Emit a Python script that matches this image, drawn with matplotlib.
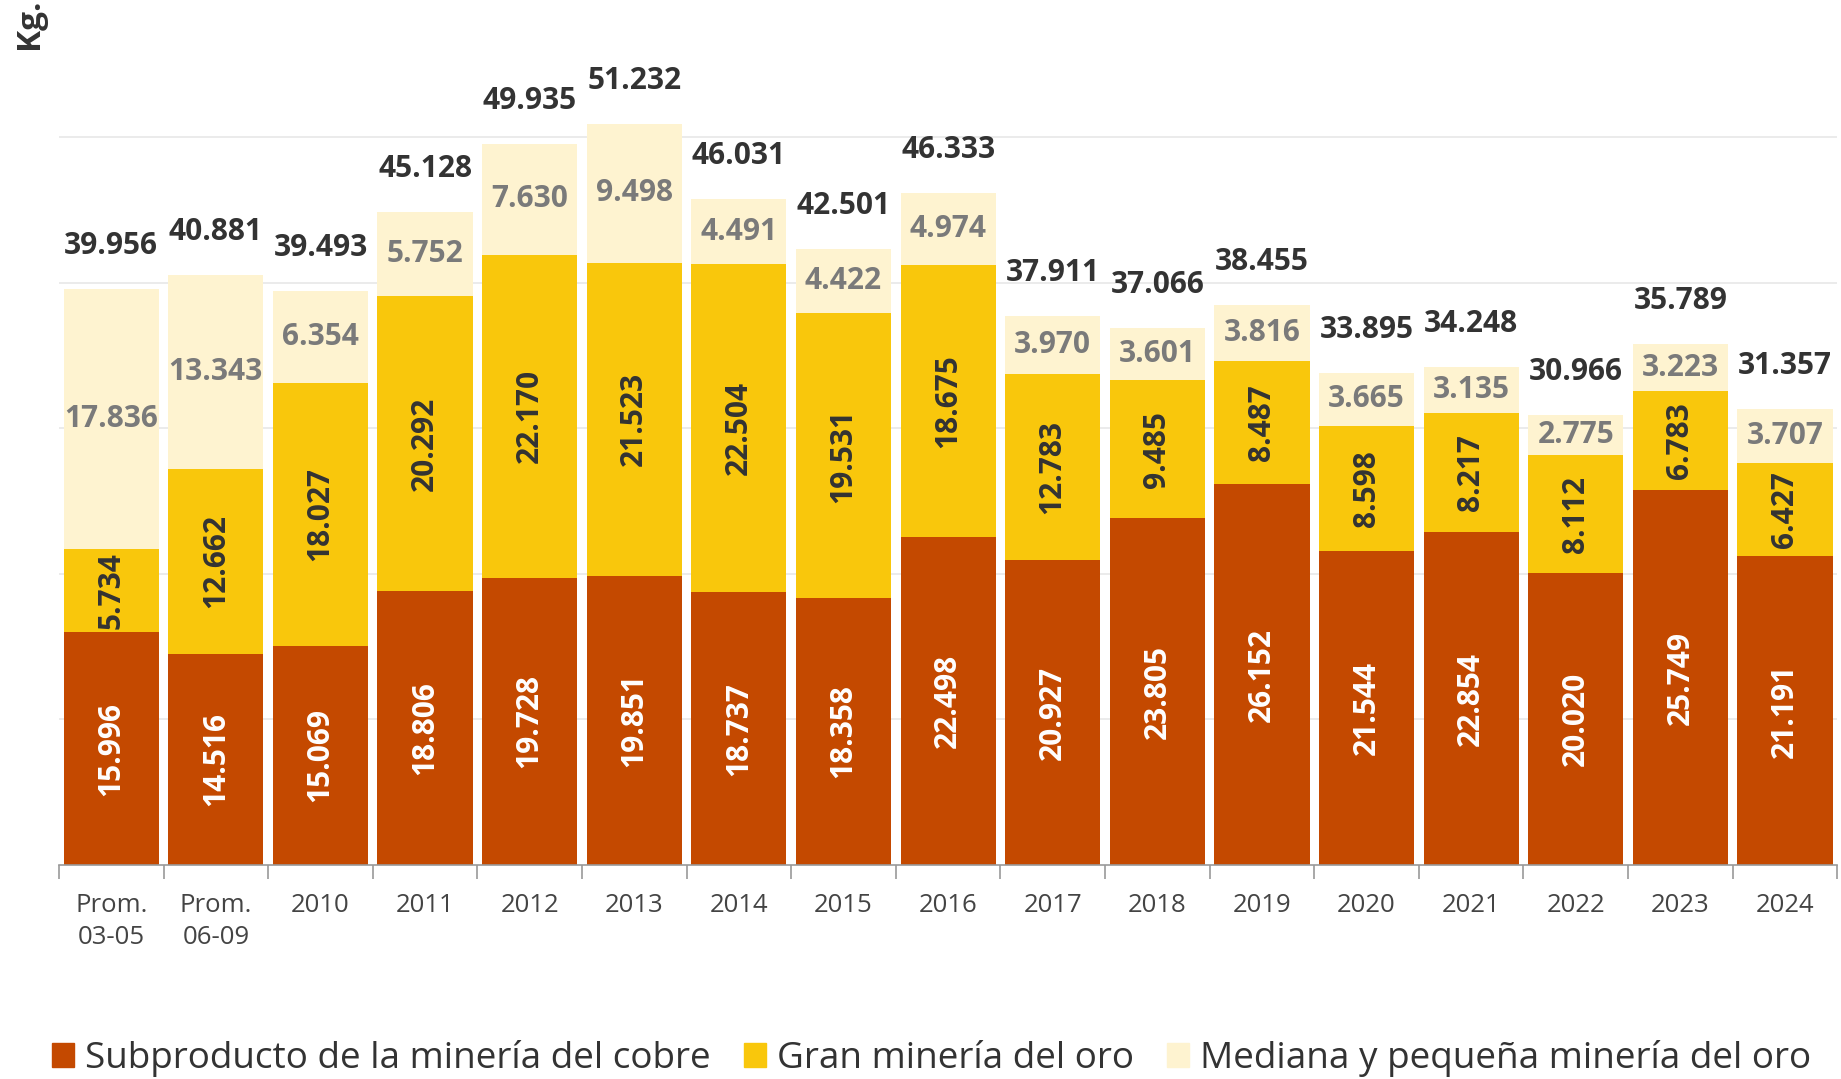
import matplotlib
matplotlib.use('Agg')
import matplotlib.pyplot as plt
from matplotlib.patches import Patch

# Producción de oro por origen (kg)
categories = ['Prom.\n03-05', 'Prom.\n06-09', '2010', '2011', '2012', '2013', '2014',
              '2015', '2016', '2017', '2018', '2019', '2020', '2021', '2022', '2023', '2024']
cobre = [15996, 14516, 15069, 18806, 19728, 19851, 18737, 18358, 22498,
         20927, 23805, 26152, 21544, 22854, 20020, 25749, 21191]
gran = [5734, 12662, 18027, 20292, 22170, 21523, 22504, 19531, 18675,
        12783, 9485, 8487, 8598, 8217, 8112, 6783, 6427]
mediana = [17836, 13343, 6354, 5752, 7630, 9498, 4491, 4422, 4974,
           3970, 3601, 3816, 3665, 3135, 2775, 3223, 3707]
totales = [39956, 40881, 39493, 45128, 49935, 51232, 46031, 42501, 46333,
           37911, 37066, 38455, 33895, 34248, 30966, 35789, 31357]
series_names = ['Subproducto de la minería del cobre', 'Gran minería del oro',
                'Mediana y pequeña minería del oro']

C_COBRE = '#C44900'
C_GRAN = '#F9C70C'
C_MED = '#FEF3D0'

plt.rcParams['font.family'] = ['Open Sans', 'DejaVu Sans']


def fmt(v):
    return f'{v:,}'.replace(',', '.')


fig = plt.figure(figsize=(18.41, 10.79), dpi=100)
ax = fig.add_axes([0.032, 0.1983, 0.966, 0.8017])

x = list(range(len(categories)))
w = 0.91
bottom2 = [a + b for a, b in zip(cobre, gran)]
ax.bar(x, cobre, w, color=C_COBRE, zorder=2)
ax.bar(x, gran, w, bottom=cobre, color=C_GRAN, zorder=2)
ax.bar(x, mediana, w, bottom=bottom2, color=C_MED, zorder=2)

fs = 21.5
for i in x:
    ax.text(i, cobre[i] / 2, fmt(cobre[i]), rotation=90, ha='center', va='center',
            color='white', fontsize=fs, fontweight='bold', zorder=3)
    ax.text(i, cobre[i] + gran[i] / 2, fmt(gran[i]), rotation=90, ha='center', va='center',
            color='#333333', fontsize=fs, fontweight='bold', zorder=3)
    ax.text(i, bottom2[i] + mediana[i] / 2, fmt(mediana[i]), ha='center', va='center',
            color='#7a7a7a', fontsize=fs, fontweight='bold', zorder=3)
    ax.annotate(fmt(totales[i]), (i, bottom2[i] + mediana[i]), xytext=(0, 43),
                textcoords='offset pixels', ha='center', va='center',
                color='#333333', fontsize=fs, fontweight='bold', zorder=3)

ax.set_xlim(-0.5, len(categories) - 0.5)
ax.set_ylim(0, 59400)
ax.set_yticks([10000, 20000, 30000, 40000, 50000])
ax.yaxis.grid(True, color='#e8e8e8', linewidth=1.2, zorder=0)
ax.tick_params(axis='y', left=False, labelleft=False)

ax.set_xticks([i - 0.5 for i in x] + [len(categories) - 0.5])
ax.set_xticklabels([])
ax.set_xticks(x, minor=True)
ax.set_xticklabels(categories, minor=True, fontsize=18.5, color='#444444', va='top',
                   linespacing=1.4)
ax.tick_params(axis='x', which='major', length=10, color='#999999', width=1.2)
ax.tick_params(axis='x', which='minor', length=0, pad=20)

for s in ['top', 'right', 'left']:
    ax.spines[s].set_visible(False)
ax.spines['bottom'].set_color('#999999')
ax.spines['bottom'].set_linewidth(1.2)

fig.text(0.016, 0.978, 'Kg.', rotation=90, ha='center', va='center',
         fontsize=24, fontweight='bold', color='#333333')

handles = [Patch(color=c) for c in (C_COBRE, C_GRAN, C_MED)]
fig.legend(handles, series_names, loc='center', bbox_to_anchor=(0.506, 0.019), ncol=3,
           frameon=False, fontsize=26.6, handlelength=0.6, handleheight=0.6,
           handletextpad=0.3, columnspacing=0.9, labelcolor='#333333')

fig.savefig('out.png', dpi=100)
